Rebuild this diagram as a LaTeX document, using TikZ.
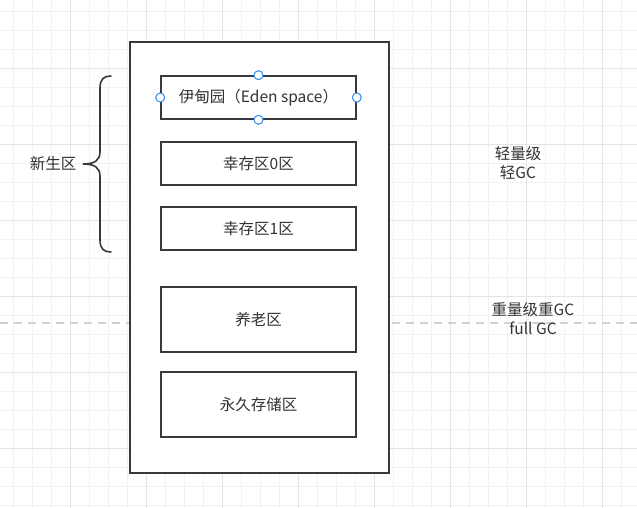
\documentclass[tikz,border=0pt]{standalone}
\usepackage{fontspec}
\setmainfont{Noto Sans CJK SC}
\usepackage{xcolor}
\usetikzlibrary{calc}

\definecolor{ink}{HTML}{36393D}
\definecolor{txt}{HTML}{333333}
\definecolor{gridminor}{HTML}{F1F1F1}
\definecolor{gridmajor}{HTML}{E4E4E4}
\definecolor{sel}{HTML}{2B8CF0}

\begin{document}
\begin{tikzpicture}[
  x=1pt, y=-1pt,
  font=\fontsize{15.5}{19}\selectfont, text=txt,
  heap/.style={draw=ink, line width=1.6pt, fill=white, minimum width=259pt, minimum height=431pt, inner sep=0pt},
  area/.style={draw=ink, line width=1.6pt, fill=white, minimum width=195pt, inner sep=0pt, align=center},
  small/.style={area, minimum height=43pt},
  big/.style={area, minimum height=65pt},
  handle/.style={circle, draw=sel, fill=white, line width=1pt, minimum size=9pt, inner sep=0pt},
  gclabel/.style={align=center},
  sep/.style={draw=gray!35, line width=1.8pt, dash pattern=on 8pt off 6pt},
  bracket/.style={draw=ink, line width=1.6pt, line cap=round},
]

% canvas + grid
\useasboundingbox (0,0) rectangle (637,508);
\fill[white] (0,0) rectangle (637,508);
\foreach \x in {13,32,...,637} \draw[gridminor, line width=0.9pt] (\x,0) -- (\x,508);
\foreach \y in {11,30,...,508} \draw[gridminor, line width=0.9pt] (0,\y) -- (637,\y);
\foreach \x in {70,146,...,637} \draw[gridmajor, line width=0.9pt] (\x,0) -- (\x,508);
\foreach \y in {68,144,...,508} \draw[gridmajor, line width=0.9pt] (0,\y) -- (637,\y);

% Trennlinie leicht / schwer
\coordinate (sepl) at (0,323);
\coordinate (sepr) at (637,323);
\draw[sep] (sepl) -- (sepr);

% heap
\node[heap] (jvm) at (259.5,257.5) {};

% areas
\node[small] (eden) at (258.5,97.5) {伊甸园（Eden space）};
\node[small] (s0) at (258.5,163.5) {幸存区0区};
\node[small] (s1) at (258.5,228.5) {幸存区1区};
\node[big] (old) at (258.5,319.5) {养老区};
\node[big] (perm) at (258.5,404.5) {永久存储区};

% selection handles
\foreach \a in {north,south,east,west}
  \node[handle] (h-\a) at (eden.\a) {};

% young generation brace
\coordinate (ytop) at (111,76);
\coordinate (ytip) at (83,164);
\coordinate (ybot) at (111,252);
\draw[bracket] (ytop) .. controls (104,76) and (100,79) .. (100,88)
  -- (100,152) .. controls (100,160) and (95,164) .. (ytip)
  .. controls (95,164) and (100,168) .. (100,176)
  -- (100,240) .. controls (100,249) and (104,252) .. (ybot);
\node (young) at (53,164) {新生区};

% GC labels
\node[gclabel] (minorgc) at (518,163) {轻量级\\轻GC};
\node[gclabel] (fullgc) at (533,319) {重量级重GC\\full GC};

\end{tikzpicture}
\end{document}
